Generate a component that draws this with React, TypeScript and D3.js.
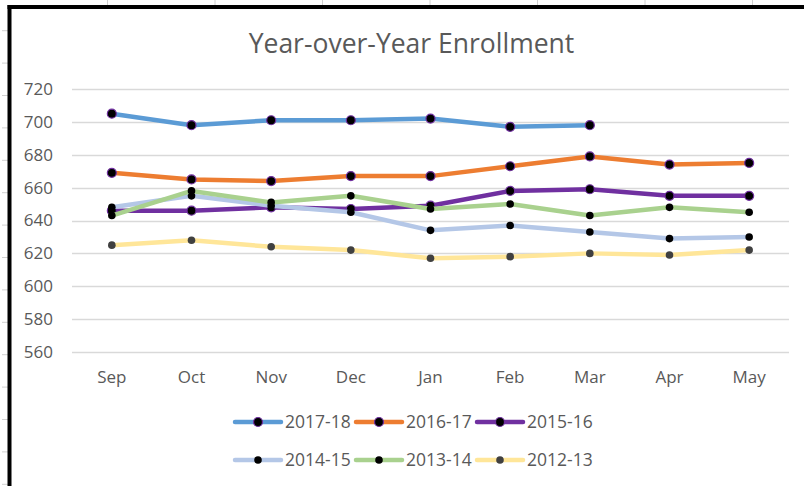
import React, { useEffect, useRef } from "react";
import * as d3 from "d3";

const months = ["Sep", "Oct", "Nov", "Dec", "Jan", "Feb", "Mar", "Apr", "May"];
const yTicks = [560, 580, 600, 620, 640, 660, 680, 700, 720];

const seriesNames = ["2017-18", "2016-17", "2015-16", "2014-15", "2013-14", "2012-13"];
const enroll2017_18 = [705, 698, 701, 701, 702, 697, 698];
const enroll2016_17 = [669, 665, 664, 667, 667, 673, 679, 674, 675];
const enroll2015_16 = [646, 646, 648, 647, 649, 658, 659, 655, 655];
const enroll2014_15 = [648, 655, 649, 645, 634, 637, 633, 629, 630];
const enroll2013_14 = [643, 658, 651, 655, 647, 650, 643, 648, 645];
const enroll2012_13 = [625, 628, 624, 622, 617, 618, 620, 619, 622];

const lineColors = ["#5b9bd5", "#ed7d31", "#7030a0", "#b4c7e7", "#a9d18e", "#ffe699"];
const dotFill = ["#000", "#000", "#000", "#000", "#000", "#404040"];
const dotStroke = ["#7030a0", "#7030a0", "#7030a0", "none", "none", "none"];

const W = 804;
const H = 486;

export default function App() {
  const ref = useRef<SVGSVGElement>(null);

  useEffect(() => {
    const svg = d3.select(ref.current);
    svg.selectAll("*").remove();
    const allData = [enroll2017_18, enroll2016_17, enroll2015_16, enroll2014_15, enroll2013_14, enroll2012_13];
    const textColor = "#595959";
    const font = "'Open Sans', sans-serif";

    svg.append("rect").attr("width", W).attr("height", H).attr("fill", "#fff");

    // spreadsheet cell marks behind the chart
    for (let x = 107.5; x < W; x += 107.5) {
      svg.append("line").attr("x1", x).attr("x2", x).attr("y1", 0).attr("y2", 5)
        .attr("stroke", "#d0d0d0").attr("stroke-width", 1);
    }
    for (let y = 30.7; y < H; y += 32.4) {
      svg.append("line").attr("x1", 2).attr("x2", 8).attr("y1", y).attr("y2", y)
        .attr("stroke", "#d0d0d0").attr("stroke-width", 1);
    }
    // chart frame
    svg.append("line").attr("x1", 7.5).attr("x2", W).attr("y1", 7).attr("y2", 7)
      .attr("stroke", "#000").attr("stroke-width", 4);
    svg.append("line").attr("x1", 9.5).attr("x2", 9.5).attr("y1", 5).attr("y2", H)
      .attr("stroke", "#000").attr("stroke-width", 4);

    svg.append("text")
      .attr("x", 411.5).attr("y", 52.5)
      .attr("text-anchor", "middle")
      .attr("font-family", font).attr("font-size", "26.5px")
      .attr("fill", textColor)
      .text("Year-over-Year Enrollment");

    const xScale = d3.scaleBand().domain(months).range([72, 789]);
    const yScale = d3.scaleLinear().domain([560, 720]).range([352, 89]);
    const xc = (m: string) => (xScale(m) as number) + xScale.bandwidth() / 2;

    const grid = svg.append("g");
    yTicks.forEach((t) => {
      grid.append("line")
        .attr("x1", 72).attr("x2", 789)
        .attr("y1", Math.round(yScale(t)) + 0.5).attr("y2", Math.round(yScale(t)) + 0.5)
        .attr("stroke", "#d9d9d9").attr("stroke-width", 1.3);
      grid.append("text")
        .attr("x", 53).attr("y", yScale(t))
        .attr("dy", "0.35em")
        .attr("text-anchor", "end")
        .attr("font-family", font).attr("font-size", "17px")
        .attr("fill", textColor)
        .text(t);
    });

    months.forEach((m) => {
      svg.append("text")
        .attr("x", xc(m)).attr("y", 383)
        .attr("text-anchor", "middle")
        .attr("font-family", font).attr("font-size", "17px")
        .attr("fill", textColor)
        .text(m);
    });

    const line = d3.line<number>()
      .x((d, i) => xc(months[i]))
      .y((d) => yScale(d));

    allData.forEach((vals, s) => {
      const g = svg.append("g");
      g.append("path")
        .datum(vals)
        .attr("fill", "none")
        .attr("stroke", lineColors[s])
        .attr("stroke-width", 4.5)
        .attr("stroke-linejoin", "round")
        .attr("stroke-linecap", "round")
        .attr("d", line);
      g.selectAll("circle")
        .data(vals)
        .enter()
        .append("circle")
        .attr("cx", (d, i) => xc(months[i]))
        .attr("cy", (d) => yScale(d))
        .attr("r", s < 3 ? 4.5 : 3.8)
        .attr("fill", dotFill[s])
        .attr("stroke", dotStroke[s])
        .attr("stroke-width", 1.2);
    });

    // legend, 3 per row
    seriesNames.forEach((name, i) => {
      const x0 = 235 + (i % 3) * 121;
      const y0 = i < 3 ? 422 : 460;
      const lg = svg.append("g");
      lg.append("line")
        .attr("x1", x0).attr("x2", x0 + 46)
        .attr("y1", y0).attr("y2", y0)
        .attr("stroke", lineColors[i]).attr("stroke-width", 4.5)
        .attr("stroke-linecap", "round");
      lg.append("circle")
        .attr("cx", x0 + 23).attr("cy", y0)
        .attr("r", i < 3 ? 4.5 : 3.8)
        .attr("fill", dotFill[i])
        .attr("stroke", dotStroke[i]).attr("stroke-width", 1.2);
      lg.append("text")
        .attr("x", x0 + 50).attr("y", y0)
        .attr("dy", "0.35em")
        .attr("font-family", font).attr("font-size", "17.5px")
        .attr("fill", textColor)
        .text(name);
    });
  }, []);

  return (
    <svg
      ref={ref}
      width={W}
      height={H}
      style={{ position: "absolute", left: 0, top: 0, display: "block" }}
    />
  );
}
